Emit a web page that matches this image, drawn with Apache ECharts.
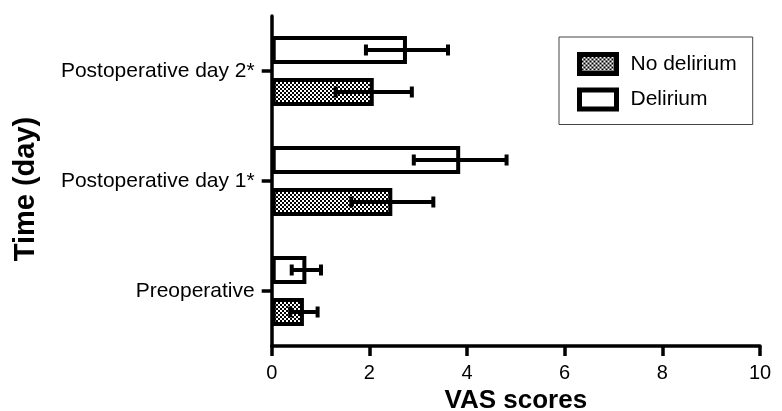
<!DOCTYPE html>
<html>
<head>
<meta charset="utf-8">
<script src="https://cdn.jsdelivr.net/npm/echarts@6/dist/echarts.min.js"></script>
<style>
html,body{margin:0;padding:0;background:#fff;}
#chart{width:782px;height:411px;}
</style>
</head>
<body>
<div id="chart"></div>
<script>
// ---- data ----
var categories = ['Preoperative', 'Postoperative day 1*', 'Postoperative day 2*'];
var noDeliriumMean = [0.66, 2.47, 2.09];
var noDeliriumSD   = [0.28, 0.84, 0.78];
var deliriumMean   = [0.71, 3.86, 2.77];
var deliriumSD     = [0.30, 0.95, 0.84];
var xTicks = [0, 2, 4, 6, 8, 10];

// ---- style constants ----
var BAR_W = 28, BAR_GAP = 14, BORDER = 4;
var FONT = "'Liberation Sans', Arial, Helvetica, sans-serif";

// checkerboard pattern
var pc = document.createElement('canvas');
pc.width = 4; pc.height = 4;
var pctx = pc.getContext('2d');
pctx.fillStyle = '#fff'; pctx.fillRect(0, 0, 4, 4);
pctx.fillStyle = '#000';
pctx.fillRect(0, 0, 2, 2); pctx.fillRect(2, 2, 2, 2);
var pattern = { image: pc, repeat: 'repeat' };

function errData(means, sds) {
  return means.map(function (m, i) { return [i, m, sds[i]]; });
}
function errRender(offset) {
  return function (params, api) {
    var cat = api.value(0), m = api.value(1), sd = api.value(2);
    var lo = api.coord([m - sd, cat]);
    var hi = api.coord([m + sd, cat]);
    var y = lo[1] + offset;
    var cap = 5.5;
    var st = { stroke: '#000', lineWidth: 4 };
    return {
      type: 'group',
      children: [
        { type: 'line', shape: { x1: lo[0], y1: y, x2: hi[0], y2: y }, style: st },
        { type: 'line', shape: { x1: lo[0], y1: y - cap, x2: lo[0], y2: y + cap }, style: st },
        { type: 'line', shape: { x1: hi[0], y1: y - cap, x2: hi[0], y2: y + cap }, style: st }
      ]
    };
  };
}
var off = BAR_W / 2 + BAR_GAP / 2;

var chart = echarts.init(document.getElementById('chart'));
chart.setOption({
  animation: false,
  backgroundColor: '#fff',
  textStyle: { fontFamily: FONT },
  grid: { left: 271.7, right: 22, top: 16, bottom: 65, outerBoundsMode: 'none', containLabel: false },
  legend: {
    data: ['No delirium', 'Delirium'],
    orient: 'vertical',
    left: 559, top: 37,
    padding: [15, 16, 13, 18],
    itemWidth: 37, itemHeight: 19,
    itemGap: 11.5,
    icon: 'rect',
    borderColor: '#444', borderWidth: 1,
    itemStyle: { borderWidth: 5, borderColor: '#000' },
    textStyle: { fontSize: 21, color: '#000', fontFamily: FONT, padding: [0, 0, 0, 9] }
  },
  xAxis: {
    type: 'value', min: 0, max: 10, interval: 2,
    name: 'VAS scores', nameLocation: 'middle', nameGap: 42,
    nameTextStyle: { fontSize: 26, fontWeight: 'bold', color: '#000', fontFamily: FONT },
    axisLine: { show: true, lineStyle: { color: '#000', width: 3.5 } },
    axisTick: { show: true, length: 10, lineStyle: { color: '#000', width: 3.5 } },
    axisLabel: { fontSize: 20, color: '#000', margin: 17, fontFamily: FONT,
      formatter: function (v) { return xTicks.indexOf(v) >= 0 ? String(v) : ''; } },
    splitLine: { show: false }
  },
  yAxis: {
    type: 'category', data: categories,
    name: 'Time (day)', nameLocation: 'middle', nameGap: 231,
    nameTextStyle: { fontSize: 29, fontWeight: 'bold', color: '#000', fontFamily: FONT, padding: [0, 16, 0, 0] },
    axisLine: { show: true, lineStyle: { color: '#000', width: 3.5 } },
    axisTick: { show: true, alignWithLabel: true, length: 10, lineStyle: { color: '#000', width: 3.5 } },
    axisLabel: { fontSize: 21, color: '#000', margin: 17, fontFamily: FONT }
  },
  series: [
    {
      name: 'Delirium', type: 'bar', data: deliriumMean,
      barWidth: BAR_W, barGap: (BAR_GAP / BAR_W * 100) + '%',
      itemStyle: { color: '#fff', borderColor: '#000', borderWidth: BORDER }
    },
    {
      name: 'No delirium', type: 'bar', data: noDeliriumMean,
      barWidth: BAR_W, barGap: (BAR_GAP / BAR_W * 100) + '%',
      itemStyle: { color: pattern, borderColor: '#000', borderWidth: BORDER }
    },
    {
      type: 'custom', z: 5, data: errData(noDeliriumMean, noDeliriumSD),
      renderItem: errRender(off), encode: { x: 1, y: 0 }
    },
    {
      type: 'custom', z: 5, data: errData(deliriumMean, deliriumSD),
      renderItem: errRender(-off), encode: { x: 1, y: 0 }
    }
  ]
});
</script>
</body>
</html>
